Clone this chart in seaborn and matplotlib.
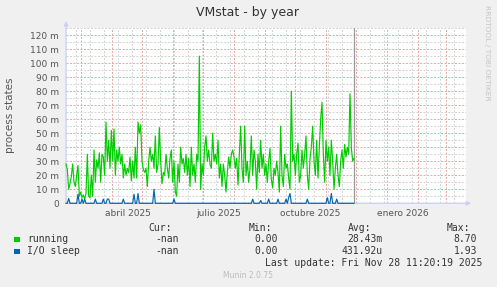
import numpy as np
import pandas as pd
import matplotlib
matplotlib.use("Agg")
import matplotlib.pyplot as plt
from matplotlib.ticker import MultipleLocator, FixedLocator, NullFormatter, FuncFormatter
from matplotlib.patches import Rectangle
import matplotlib.dates as mdates
import seaborn as sns

# ---------------- data ----------------
START = "2025-02-14"
STEP_HOURS = 32
RANGE_DAYS = 400

running = [
    28, 24, 10, 14, 19, 28, 15, 12, 20, 27, 5, 8, 4, 6, 3, 7, 35, 5, 4, 20, 5, 38, 15, 31, 25, 36, 15,
    35, 33, 20, 58, 30,
    45, 25, 52, 30, 53, 20,
    38, 30, 40, 28, 35, 18,
    28, 20, 25, 22, 33,
    16, 30, 18, 40, 18, 58,
    50, 56, 30, 24,
    22, 25, 12, 30, 40,
    30, 35, 25, 48, 22, 28, 54,
    30, 14, 22, 20, 35,
    25, 18, 32, 38,
    15, 30, 8,
    5, 28, 15, 40, 28, 32,
    22, 35, 20, 32, 12,
    40, 20, 28, 15, 35,
    30, 105, 10,
    28, 20, 40, 48,
    30, 38, 28, 25, 50,
    30, 35, 28, 45,
    18, 28, 12, 28, 20,
    8, 22, 33, 25,
    35, 38, 33, 25, 32, 13, 35,
    55, 25, 15, 55, 20, 30, 15,
    25, 48, 20, 38, 30, 10, 35, 22, 45, 25, 35, 20, 28, 15, 30,
    39, 17, 11, 25, 20, 30, 22, 8, 55, 20, 12, 35, 25, 28, 18, 10,
    80,
    30, 35, 20, 35, 43, 15, 20, 38, 25, 35, 48, 20, 10, 32, 40, 55, 30, 20, 45, 18, 40, 60,
    72,
    35, 15, 45, 30, 40, 20, 45, 30, 10, 25, 35, 20, 12, 30, 38, 25, 42, 33, 40, 35,
    78,
    40, 30, 32,
]

io_sleep = [
    0, 0, 3.5, 0, 0, 0, 0, 0, 0, 6.5, 0, 0, 3, 0, 3, 0, 0, 0, 0, 0,
    0, 0, 3, 0, 0, 0, 0, 0, 3, 0, 0, 3, 3, 0, 0, 0, 0, 0, 0, 0,
    0, 0, 0, 3, 0, 0, 0, 0, 0, 0, 0, 6.5, 0, 0, 7, 0, 0, 0, 0, 0,
    0, 0, 0, 0, 0, 0, 10, 0, 0, 0, 0, 0, 0, 0, 0, 0, 0, 0, 0, 0,
    0, 3, 0, 0, 0, 0, 0, 0, 0, 0, 0, 0, 0, 0, 0, 0, 0, 0, 0, 0,
    0, 0, 0, 0, 0, 0, 0, 0, 0, 0, 0, 0, 0, 0, 0, 0, 0, 0, 0, 0,
    0, 0, 0, 0, 0, 0, 0, 0, 0, 0, 0, 0, 0, 0, 0, 0, 0, 0, 0, 0,
    3, 0, 0, 0, 0, 0, 2, 0, 0, 0, 0, 0, 3, 0, 0, 0, 0, 0, 0, 3,
    0, 0, 0, 0, 0, 3, 0, 4, 7, 0, 0, 0, 0, 0, 0, 0, 0, 0, 0, 0,
    0, 3, 0, 0, 0, 0, 0, 0, 0, 0, 0, 0, 0, 0, 0, 0, 4, 0, 0, 7,
    0, 0, 0, 3, 0, 0, 0, 0, 0, 0, 0, 0, 0, 0, 0, 0, 0,
]

series_names = ["running", "I/O sleep"]
series_colors = ["#00CC00", "#0066B3"]
cur_vals = ["-nan", "-nan"]
min_vals = ["0.00", "0.00"]
avg_vals = ["28.43m", "431.92u"]
max_vals = ["8.70", "1.93"]
month_label_text = ["abril 2025", "julio 2025", "octubre 2025", "enero 2026"]
month_label_dates = ["2025-04-01", "2025-07-01", "2025-10-01", "2026-01-01"]
last_update = "Fri Nov 28 11:20:19 2025"

# ---------------- figure ----------------
W, H = 497, 287
fig = plt.figure(figsize=(W / 100, H / 100), dpi=100, facecolor="#F0F0F0")

def fx(px):
    return px / W

def fy(py):
    return 1 - py / H

ax = fig.add_axes([fx(66), fy(203.3), 400 / W, 175.3 / H])
ax.set_facecolor("#FFFFFF")

start = pd.Timestamp(START)
times = start + pd.to_timedelta(np.arange(len(running)) * STEP_HOURS, unit="h")
df = pd.DataFrame({
    "time": list(times) * 2,
    "value": running + io_sleep,
    "series": [series_names[0]] * len(running) + [series_names[1]] * len(io_sleep),
})

sns.lineplot(data=df, x="time", y="value", hue="series", hue_order=series_names,
             palette=dict(zip(series_names, series_colors)), legend=False,
             estimator=None, linewidth=0.85, ax=ax)
for ln in ax.lines:
    ln.set_clip_on(False)
    ln.set_zorder(3)

end = start + pd.Timedelta(days=RANGE_DAYS)
ax.set_xlim(start, end)
ax.set_ylim(0, 125)

# grid
ax.xaxis.set_major_locator(mdates.MonthLocator())
minor_x = pd.date_range("2025-02-24", end, freq="14D")
ax.xaxis.set_minor_locator(FixedLocator(mdates.date2num(minor_x)))
ax.xaxis.set_major_formatter(NullFormatter())
ax.xaxis.set_minor_formatter(NullFormatter())
ax.yaxis.set_major_locator(MultipleLocator(10))
ax.yaxis.set_minor_locator(MultipleLocator(5))
ax.yaxis.set_major_formatter(FuncFormatter(lambda v, p: "0" if v == 0 else f"{int(v)} m"))
ax.set_axisbelow(True)
ax.grid(which="minor", color="#D6D6D6", linestyle=(0, (2, 1.5)), linewidth=0.72)
ax.grid(which="major", color="#EBA9A9", linestyle=(0, (2, 1.5)), linewidth=0.72)
ax.tick_params(which="both", length=0)
ax.tick_params(axis="y", labelsize=6.5, labelcolor="#555555", pad=5)
ax.set_xlabel("")
ax.set_ylabel("")
for s in ax.spines.values():
    s.set_visible(False)

# "now" line at last data point
ax.axvline(times[-1], color="#999999", linewidth=0.9, zorder=2.5)

# axis arrows
axis_col = "#C9D1F6"
ax.annotate("", xy=(0, 1.04), xytext=(0, 0), xycoords="axes fraction",
            arrowprops=dict(arrowstyle="-|>", color=axis_col, lw=1, mutation_scale=6,
                            shrinkA=0, shrinkB=0), zorder=1)
ax.annotate("", xy=(1.013, 0), xytext=(0, 0), xycoords="axes fraction",
            arrowprops=dict(arrowstyle="-|>", color=axis_col, lw=1, mutation_scale=6,
                            shrinkA=0, shrinkB=0), zorder=1)

# month labels, centred in their month
trans = ax.get_xaxis_transform()
for txt, d in zip(month_label_text, month_label_dates):
    pos = pd.Timestamp(d) + pd.Timedelta(days=15.5)
    ax.text(pos, -0.035, txt, transform=trans, ha="center", va="top",
            fontsize=6.5, color="#555555")

# titles and side texts
fig.text(fx(248), fy(12.5), "VMstat - by year", ha="center", va="center",
         fontsize=9, color="#333333")
fig.text(fx(10.5), fy(115), "process states", rotation=90, ha="center", va="center",
         fontsize=7.5, color="#555555")
fig.text(fx(487.5), fy(53), "RRDTOOL / TOBI OETIKER", rotation=270, ha="center",
         va="center", fontsize=5.4, color="#C4C4C4")
fig.text(fx(248), fy(276), "Munin 2.0.75", ha="center", va="center",
         fontsize=5.5, color="#BBBBBB")

# legend table
mono = dict(family="DejaVu Sans Mono", fontsize=7, color="#333333", va="center")
fig.text(fx(172), fy(228.3), "Cur:", ha="right", **mono)
fig.text(fx(272), fy(228.3), "Min:", ha="right", **mono)
fig.text(fx(371), fy(228.3), "Avg:", ha="right", **mono)
fig.text(fx(470), fy(228.3), "Max:", ha="right", **mono)
row_y = [239.5, 251.2]
for i, name in enumerate(series_names):
    yy = row_y[i]
    fig.patches.append(Rectangle((fx(14.3), fy(yy + 2.6)), 5.2 / W, 5.2 / H,
                                 transform=fig.transFigure, facecolor=series_colors[i],
                                 edgecolor="none"))
    fig.text(fx(27), fy(yy), name, ha="left", **mono)
    fig.text(fx(179), fy(yy), cur_vals[i], ha="right", **mono)
    fig.text(fx(278), fy(yy), min_vals[i], ha="right", **mono)
    fig.text(fx(383), fy(yy), avg_vals[i], ha="right", **mono)
    fig.text(fx(477), fy(yy), max_vals[i], ha="right", **mono)
fig.text(fx(482), fy(263.3), f"Last update: {last_update}", ha="right", **mono)

fig.savefig("out.png", dpi=100, facecolor=fig.get_facecolor())
